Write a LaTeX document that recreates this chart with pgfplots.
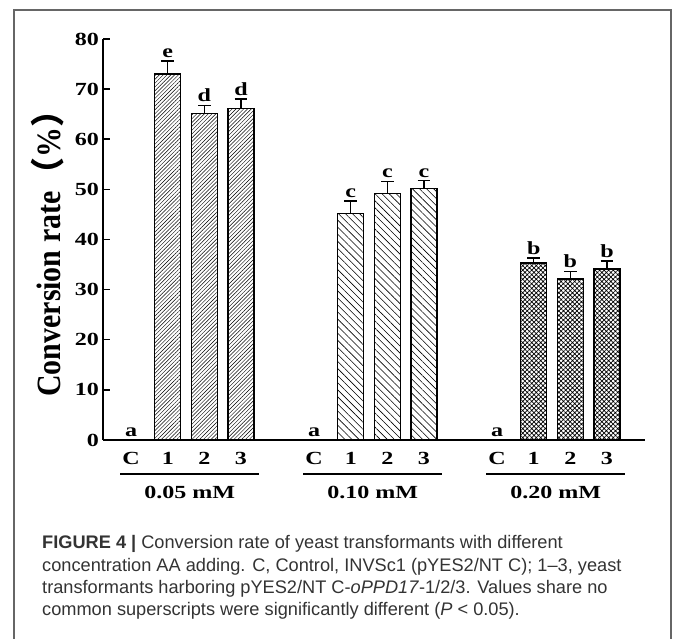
\documentclass[border=0pt]{standalone}
\usepackage{fontspec}
\setmainfont{Liberation Serif}
\newfontfamily\chartfont[FakeStretch=1.3]{Liberation Serif}
\newfontfamily\labfont[FakeStretch=0.88]{Liberation Serif}
\newfontfamily\cjk{Noto Sans CJK SC}
\newfontfamily\capfont{Liberation Sans}
\usepackage{pgfplots}
\usepackage{pgfplotstable}
\pgfplotsset{compat=1.18}
\usetikzlibrary{patterns.meta}

\definecolor{captxt}{HTML}{333333}
\definecolor{framec}{HTML}{666666}

% bars: position, mean, error (upper only)
\pgfplotstableread{
x y e
1 73.0 2.6
2 65.1 1.6
3 66.1 1.9
}\gA
\pgfplotstableread{
x y e
6 45.2 2.5
7 49.1 2.5
8 50.1 1.6
}\gB
\pgfplotstableread{
x y e
11 35.3 1.0
12 32.1 1.5
13 34.1 1.6
}\gC
% significance letters
\pgfplotstableread{
x y e l
0 0 0 a
1 73.0 2.6 e
2 65.1 1.6 d
3 66.1 1.9 d
5 0 0 a
6 45.2 2.5 c
7 49.1 2.5 c
8 50.1 1.6 c
10 0 0 a
11 35.3 1.0 b
12 32.1 1.5 b
13 34.1 1.6 b
}\lets

\newcommand\cf{\chartfont\bfseries\fontsize{18.5bp}{20bp}\selectfont}

\pgfplotsset{errstyle/.style={
  error bars/.cd, y dir=plus, y explicit,
  error bar style={line width=1.3bp, black},
  error mark=-,
  error mark options={rotate=90, line width=1.3bp, mark size=6.3bp, black}}}

\begin{document}
\begin{tikzpicture}
\path[use as bounding box] (0,0) rectangle (673bp,639bp);
\draw[line width=1.5bp, framec] (14bp,-5bp) -- (14bp,629bp) -- (671bp,629bp) -- (671bp,-5bp);

\begin{axis}[
  at={(103bp,199bp)}, anchor=south west,
  scale only axis, width=542bp, height=401bp,
  xmin=-0.77, xmax=14.04, ymin=0, ymax=80,
  axis lines=left,
  axis line style={-, line width=1.5bp},
  clip=false,
  ytick={0,10,...,80},
  tick align=inside,
  major tick length=7bp,
  y tick style={line width=1.5bp, black},
  x tick style={draw=none},
  xtick={0,1,2,3,5,6,7,8,10,11,12,13},
  xticklabels={C,1,2,3,C,1,2,3,C,1,2,3},
  xticklabel style={font=\cf, yshift=-2bp},
  yticklabel style={font=\cf, inner sep=2bp, xshift=-2bp},
  /pgf/number format/assume math mode=true,
  ylabel={\labfont\bfseries\fontsize{34bp}{34bp}\selectfont Conversion rate{\cjk （}\%{\cjk ）}},
  ylabel style={at={(axis description cs:-0.103,0.486)}, anchor=center},
  ybar, bar width=0.71, bar shift=0pt,
]
\addplot[ybar, draw=black, line width=1.2bp,
  pattern={Lines[angle=45,distance=2.7bp,line width=0.45bp]}, errstyle]
  table[x=x, y=y, y error=e] {\gA};
\addplot[ybar, draw=black, line width=1.2bp,
  pattern={Lines[angle=-45,distance=5bp,line width=0.6bp]}, errstyle]
  table[x=x, y=y, y error=e] {\gB};
\addplot[ybar, draw=black, line width=1.2bp,
  pattern={Hatch[angle=45,distance=3.2bp,line width=0.7bp]}, errstyle]
  table[x=x, y=y, y error=e] {\gC};
\addplot[only marks, mark=none, nodes near coords, point meta=explicit symbolic,
  nodes near coords style={anchor=south, font=\cf}]
  table[x=x, y expr=\thisrow{y}+\thisrow{e}, meta=l] {\lets};

% group brackets
\draw[line width=1.5bp] ([yshift=-34bp]axis cs:-0.3,0) -- ([yshift=-34bp]axis cs:3.5,0);
\node[font=\cf] at ([yshift=-52bp]axis cs:1.6,0) {0.05 mM};
\draw[line width=1.5bp] ([yshift=-34bp]axis cs:4.7,0) -- ([yshift=-34bp]axis cs:8.5,0);
\node[font=\cf] at ([yshift=-52bp]axis cs:6.6,0) {0.10 mM};
\draw[line width=1.5bp] ([yshift=-34bp]axis cs:9.7,0) -- ([yshift=-34bp]axis cs:13.5,0);
\node[font=\cf] at ([yshift=-52bp]axis cs:11.6,0) {0.20 mM};
\end{axis}

\begin{scope}[every node/.style={anchor=base west, inner sep=0pt, text=captxt,
    font=\capfont\fontsize{18.2bp}{22bp}\selectfont}]
\node at (42bp,90.5bp) {\textbf{FIGURE 4 |} Conversion rate of yeast transformants with different};
\node at (42bp,67.5bp) {concentration AA adding. C, Control, INVSc1 (pYES2/NT C); 1–3, yeast};
\node at (42bp,45.5bp) {transformants harboring pYES2/NT C-\textit{oPPD17}-1/2/3. Values share no};
\node at (42bp,23.5bp) {common superscripts were significantly different (\textit{P} < 0.05).};
\end{scope}
\end{tikzpicture}
\end{document}
